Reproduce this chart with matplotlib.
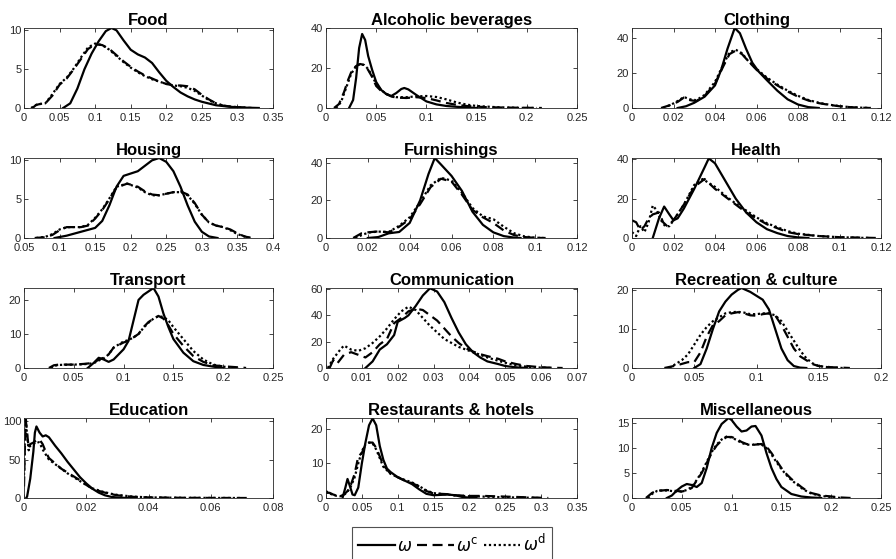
import matplotlib
matplotlib.use("Agg")
import matplotlib.pyplot as plt
import numpy as np
from matplotlib.ticker import FuncFormatter

plt.rcParams["font.family"] = ["Liberation Sans", "DejaVu Sans"]
plt.rcParams["mathtext.fontset"] = "dejavusans"

# --- density curves: (x, density) pairs ---
# w = solid, wc = dashed, wd = dotted
food_w = [(0.055, 0), (0.065, 0.6), (0.075, 2.5), (0.085, 5.0), (0.095, 7.0), (0.105, 8.6), (0.115, 9.9),
          (0.123, 10.3), (0.13, 10.0), (0.14, 8.7), (0.15, 7.5), (0.16, 6.9), (0.17, 6.5), (0.18, 5.8),
          (0.19, 4.6), (0.2, 3.5), (0.21, 2.7), (0.22, 2.0), (0.23, 1.5), (0.24, 1.1), (0.25, 0.8),
          (0.27, 0.35), (0.29, 0.15), (0.31, 0.05), (0.33, 0)]
food_wc = [(0.012, 0), (0.017, 0.4), (0.022, 0.5), (0.03, 0.6), (0.04, 1.6), (0.05, 3.0), (0.06, 3.8),
           (0.07, 5.0), (0.08, 6.3), (0.09, 7.6), (0.1, 8.2), (0.11, 8.1), (0.12, 7.6), (0.13, 6.8),
           (0.14, 6.0), (0.15, 5.3), (0.16, 4.7), (0.17, 4.2), (0.18, 3.8), (0.19, 3.4), (0.2, 3.1),
           (0.21, 2.9), (0.22, 2.9), (0.23, 2.8), (0.24, 2.4), (0.25, 1.7), (0.26, 1.1), (0.27, 0.6),
           (0.28, 0.3), (0.3, 0.1), (0.32, 0)]
food_wd = [(0.01, 0), (0.015, 0.3), (0.02, 0.5), (0.03, 0.6), (0.04, 1.8), (0.05, 3.1), (0.06, 3.9),
           (0.07, 5.1), (0.08, 6.5), (0.09, 7.8), (0.1, 8.3), (0.11, 8.1), (0.12, 7.5), (0.13, 6.7),
           (0.14, 5.9), (0.15, 5.2), (0.16, 4.6), (0.17, 4.1), (0.18, 3.7), (0.19, 3.4), (0.2, 3.1),
           (0.21, 2.9), (0.22, 2.8), (0.23, 2.6), (0.24, 2.2), (0.25, 1.6), (0.26, 1.0), (0.27, 0.6),
           (0.28, 0.3), (0.3, 0.1), (0.32, 0)]

alco_w = [(0.023, 0), (0.027, 4), (0.03, 15), (0.033, 30), (0.036, 37), (0.039, 34), (0.042, 26),
          (0.046, 19), (0.05, 13), (0.055, 9), (0.06, 7), (0.065, 6), (0.07, 7.5), (0.075, 9.5),
          (0.078, 10), (0.082, 9.3), (0.09, 6.5), (0.1, 3.3), (0.11, 1.8), (0.12, 1.0), (0.13, 0.6),
          (0.14, 0.3), (0.15, 0)]
alco_wc = [(0.008, 0), (0.013, 2), (0.018, 8), (0.022, 14), (0.026, 19), (0.03, 21), (0.034, 22),
           (0.038, 21.5), (0.042, 19), (0.046, 15.5), (0.05, 11), (0.055, 8.5), (0.06, 7), (0.065, 5.8),
           (0.07, 5.2), (0.08, 5.0), (0.09, 5.4), (0.1, 5.0), (0.11, 3.8), (0.12, 2.5), (0.13, 1.6),
           (0.14, 1.0), (0.16, 0.4), (0.18, 0.2), (0.2, 0.1), (0.215, 0)]
alco_wd = [(0.01, 0), (0.015, 3), (0.02, 10), (0.025, 17), (0.03, 21), (0.034, 22), (0.038, 21.5),
           (0.042, 19.5), (0.046, 16), (0.05, 12), (0.055, 9), (0.06, 7), (0.065, 6), (0.07, 5.4),
           (0.08, 5.4), (0.09, 5.8), (0.1, 6.0), (0.11, 5.5), (0.12, 4.3), (0.13, 2.8), (0.14, 1.7),
           (0.15, 1.0), (0.17, 0.4), (0.19, 0.1), (0.21, 0)]

cloth_w = [(0.022, 0), (0.026, 1), (0.03, 3), (0.035, 6.5), (0.04, 13), (0.043, 22), (0.046, 34),
           (0.0495, 46), (0.052, 43), (0.055, 34), (0.058, 26), (0.061, 21), (0.065, 16), (0.07, 10),
           (0.075, 5), (0.08, 2), (0.085, 0.5), (0.09, 0)]
cloth_wc = [(0.014, 0), (0.018, 1.5), (0.022, 3.5), (0.025, 6), (0.028, 4.5), (0.031, 4), (0.035, 7),
            (0.04, 14), (0.044, 24), (0.047, 31), (0.05, 33), (0.053, 31), (0.056, 27), (0.06, 22),
            (0.065, 17), (0.07, 13), (0.075, 9.5), (0.08, 6.5), (0.085, 4.3), (0.09, 2.8), (0.095, 1.8),
            (0.1, 1.0), (0.105, 0.5), (0.11, 0.2), (0.115, 0)]
cloth_wd = [(0.015, 0), (0.019, 2), (0.022, 4), (0.025, 6.3), (0.028, 5), (0.031, 4.5), (0.035, 7.5),
            (0.04, 15), (0.044, 25), (0.047, 32), (0.05, 33.5), (0.053, 31.5), (0.056, 27), (0.06, 22.5),
            (0.065, 17.5), (0.07, 13.5), (0.075, 10), (0.08, 7), (0.085, 4.6), (0.09, 3.0), (0.095, 1.9),
            (0.1, 1.1), (0.105, 0.5), (0.11, 0.2), (0.115, 0)]

house_w = [(0.093, 0), (0.11, 0.3), (0.13, 0.8), (0.15, 1.3), (0.16, 2.2), (0.17, 4.2), (0.18, 6.6),
           (0.19, 8.0), (0.2, 8.3), (0.21, 8.6), (0.22, 9.3), (0.23, 10.0), (0.24, 10.3), (0.25, 9.8),
           (0.26, 8.6), (0.27, 6.6), (0.28, 4.2), (0.29, 2.1), (0.3, 0.8), (0.31, 0.2), (0.322, 0)]
house_wc = [(0.065, 0), (0.08, 0.1), (0.09, 0.4), (0.1, 1.0), (0.11, 1.4), (0.13, 1.4), (0.14, 1.6),
            (0.15, 2.5), (0.16, 3.6), (0.17, 5.0), (0.18, 6.5), (0.195, 7.0), (0.21, 6.6), (0.22, 6.0),
            (0.23, 5.6), (0.24, 5.5), (0.25, 5.7), (0.26, 5.9), (0.27, 6.0), (0.28, 5.6), (0.29, 4.5),
            (0.3, 3.0), (0.31, 2.0), (0.32, 1.6), (0.33, 1.4), (0.34, 1.1), (0.35, 0.6), (0.36, 0.2),
            (0.37, 0)]
house_wd = [(0.067, 0), (0.08, 0.15), (0.09, 0.5), (0.1, 1.1), (0.11, 1.4), (0.13, 1.4), (0.14, 1.7),
            (0.15, 2.6), (0.16, 3.7), (0.17, 5.1), (0.18, 6.6), (0.195, 7.0), (0.21, 6.5), (0.22, 5.9),
            (0.23, 5.5), (0.24, 5.5), (0.25, 5.7), (0.26, 5.9), (0.27, 5.9), (0.28, 5.5), (0.29, 4.4),
            (0.3, 3.0), (0.31, 2.0), (0.32, 1.6), (0.33, 1.4), (0.34, 1.0), (0.35, 0.5), (0.36, 0.2),
            (0.368, 0)]

furn_w = [(0.02, 0), (0.025, 0.5), (0.03, 2.5), (0.035, 3.2), (0.04, 8), (0.045, 20), (0.049, 34),
          (0.052, 42.5), (0.055, 39), (0.06, 33), (0.065, 25), (0.07, 14), (0.075, 7), (0.08, 3),
          (0.085, 1), (0.09, 0.2), (0.093, 0)]
furn_wc = [(0.013, 0), (0.017, 2.5), (0.02, 3), (0.025, 3.5), (0.03, 3), (0.035, 6), (0.04, 10),
           (0.045, 18), (0.05, 27), (0.055, 31.5), (0.06, 30), (0.065, 23), (0.07, 15), (0.075, 11),
           (0.08, 8), (0.085, 4), (0.09, 1.5), (0.095, 0.5), (0.1, 0.1), (0.105, 0)]
furn_wd = [(0.014, 0), (0.018, 2), (0.021, 3), (0.025, 3.4), (0.03, 3.2), (0.035, 6.5), (0.04, 11),
           (0.045, 19), (0.05, 28), (0.055, 32), (0.06, 30.5), (0.065, 24), (0.07, 16), (0.075, 11.5),
           (0.08, 10), (0.085, 6), (0.09, 2.5), (0.095, 0.8), (0.1, 0.2), (0.104, 0)]

health_w = [(0.01, 0), (0.013, 10), (0.0155, 16), (0.018, 12), (0.02, 9), (0.022, 10), (0.025, 15),
            (0.03, 25), (0.035, 36), (0.037, 40.5), (0.04, 38), (0.045, 29), (0.05, 20), (0.055, 13),
            (0.06, 8), (0.065, 4.5), (0.07, 2.5), (0.075, 1), (0.08, 0.3), (0.085, 0)]
health_wc = [(0.0, 9), (0.002, 8), (0.004, 4), (0.006, 6), (0.008, 10), (0.01, 12), (0.013, 13),
             (0.015, 8), (0.017, 6), (0.02, 9), (0.025, 17), (0.03, 26), (0.035, 30), (0.04, 25),
             (0.045, 21), (0.05, 17), (0.055, 13), (0.06, 10), (0.065, 7), (0.07, 5), (0.075, 3),
             (0.08, 2), (0.09, 1), (0.1, 0.4), (0.11, 0.2), (0.118, 0)]
health_wd = [(0.0, 3), (0.002, 1), (0.004, 6), (0.006, 3), (0.008, 8), (0.01, 16.5), (0.012, 14),
             (0.014, 9), (0.016, 6), (0.018, 6), (0.02, 9), (0.025, 17), (0.03, 27), (0.034, 30),
             (0.04, 26), (0.045, 21.5), (0.05, 17.5), (0.055, 14), (0.06, 10.5), (0.065, 7.5),
             (0.07, 5.5), (0.075, 3.5), (0.08, 2.2), (0.09, 1), (0.1, 0.4), (0.11, 0.1), (0.115, 0)]

trans_w = [(0.064, 0), (0.07, 1.5), (0.075, 3), (0.08, 2.5), (0.085, 1.8), (0.09, 2.5), (0.1, 5.5),
           (0.105, 8), (0.11, 14), (0.115, 20), (0.12, 21.5), (0.125, 22.5), (0.13, 23.5), (0.135, 21),
           (0.14, 16), (0.145, 12), (0.15, 8.5), (0.16, 4.5), (0.17, 2), (0.18, 0.9), (0.19, 0.4),
           (0.2, 0)]
trans_wc = [(0.025, 0), (0.03, 0.8), (0.035, 1), (0.05, 1), (0.06, 1.2), (0.07, 1.5), (0.075, 2.5),
            (0.08, 3), (0.085, 4), (0.09, 6), (0.1, 7.5), (0.105, 8), (0.11, 9), (0.115, 10),
            (0.12, 12), (0.125, 13.5), (0.13, 14.5), (0.135, 15.3), (0.14, 14.5), (0.145, 12.5),
            (0.15, 10), (0.16, 6.5), (0.17, 3.5), (0.18, 1.8), (0.19, 0.8), (0.2, 0.5), (0.21, 0.3),
            (0.22, 0.1), (0.223, 0)]
trans_wd = [(0.027, 0), (0.03, 0.6), (0.035, 0.9), (0.05, 1), (0.06, 1.1), (0.07, 1.4), (0.075, 2.2),
            (0.08, 2.8), (0.085, 4), (0.09, 6), (0.1, 7.8), (0.105, 8.2), (0.11, 9), (0.115, 10),
            (0.12, 11.8), (0.125, 13.3), (0.13, 14.5), (0.135, 15.2), (0.14, 15), (0.145, 14),
            (0.15, 12), (0.16, 8.5), (0.17, 5), (0.18, 2.5), (0.19, 1), (0.2, 0.4), (0.21, 0.1),
            (0.215, 0)]

comm_w = [(0.011, 0), (0.013, 5), (0.015, 14), (0.017, 18), (0.019, 25), (0.02, 35), (0.022, 38),
          (0.023, 40), (0.025, 47), (0.027, 55), (0.029, 60.5), (0.031, 58), (0.033, 50), (0.035, 38),
          (0.037, 27), (0.039, 18), (0.041, 12), (0.043, 8), (0.045, 5), (0.048, 3), (0.05, 1.5),
          (0.053, 0.5), (0.056, 0)]
comm_wc = [(0.001, 0), (0.002, 6), (0.003, 3), (0.005, 10), (0.007, 12), (0.009, 10), (0.011, 8),
           (0.013, 12), (0.015, 18), (0.017, 22), (0.019, 34), (0.021, 38), (0.023, 43), (0.025, 45),
           (0.027, 44), (0.029, 40), (0.031, 36), (0.033, 30), (0.035, 24), (0.037, 19), (0.039, 15),
           (0.041, 12.5), (0.043, 10.5), (0.045, 9), (0.048, 7), (0.05, 5), (0.053, 3), (0.056, 1.5),
           (0.06, 0.6), (0.063, 0.2), (0.066, 0)]
comm_wd = [(0.0005, 0), (0.002, 7), (0.004, 14), (0.005, 17), (0.007, 14), (0.009, 13), (0.011, 15),
           (0.013, 19), (0.015, 24), (0.017, 30), (0.019, 37), (0.021, 43), (0.023, 46.5), (0.025, 44),
           (0.027, 38), (0.029, 32), (0.031, 27), (0.033, 22), (0.035, 19), (0.037, 16), (0.039, 14),
           (0.041, 12), (0.043, 10), (0.045, 8), (0.048, 5.5), (0.05, 4), (0.053, 2), (0.056, 1),
           (0.06, 0.3), (0.063, 0)]

recr_w = [(0.05, 0), (0.055, 1), (0.06, 5), (0.065, 10), (0.07, 14.5), (0.075, 17), (0.08, 18.8),
          (0.085, 20), (0.088, 20.5), (0.095, 19.5), (0.1, 18.5), (0.105, 17.5), (0.11, 15),
          (0.115, 10), (0.12, 5), (0.125, 2), (0.13, 0.5), (0.135, 0.1), (0.14, 0)]
recr_wc = [(0.026, 0), (0.035, 0.6), (0.045, 1.5), (0.05, 1.5), (0.055, 4), (0.06, 8), (0.065, 11),
           (0.07, 12), (0.075, 13.5), (0.08, 14), (0.085, 14.3), (0.09, 14), (0.095, 13.5), (0.1, 13.4),
           (0.105, 13.8), (0.11, 14), (0.115, 13.5), (0.12, 11), (0.125, 8), (0.13, 5), (0.135, 3),
           (0.14, 2), (0.145, 1), (0.15, 0.5), (0.16, 0.2), (0.175, 0)]
recr_wd = [(0.03, 0), (0.035, 1), (0.04, 2), (0.045, 3.5), (0.05, 6), (0.055, 8.5), (0.06, 10.5),
           (0.065, 12), (0.07, 13), (0.075, 14), (0.08, 14.3), (0.085, 14.4), (0.09, 14.2), (0.095, 13.8),
           (0.1, 13.8), (0.105, 14), (0.11, 14), (0.115, 13.5), (0.12, 12), (0.125, 9.5), (0.13, 7),
           (0.135, 4.5), (0.14, 2.5), (0.145, 1.2), (0.15, 0.5), (0.16, 0.1), (0.17, 0)]

educ_w = [(0.0007, 0), (0.001, 2), (0.002, 25), (0.003, 60), (0.0035, 85), (0.004, 93), (0.005, 85),
          (0.006, 80), (0.007, 81.5), (0.008, 79), (0.01, 68), (0.012, 58), (0.014, 47), (0.016, 37),
          (0.018, 27), (0.02, 19), (0.022, 12), (0.024, 7), (0.026, 3.5), (0.028, 1.5), (0.03, 0.6),
          (0.033, 0.1), (0.036, 0)]
educ_wc = [(0.0, 15), (0.0003, 70), (0.0006, 100), (0.001, 85), (0.0015, 65), (0.002, 70), (0.003, 72),
           (0.004, 75), (0.005, 76), (0.006, 70), (0.007, 60), (0.008, 52), (0.01, 45), (0.012, 38),
           (0.014, 33), (0.016, 28), (0.018, 23), (0.02, 17), (0.022, 12), (0.025, 8), (0.028, 5),
           (0.03, 3.5), (0.035, 1.5), (0.04, 0.8), (0.05, 0.3), (0.06, 0.1), (0.072, 0)]
educ_wd = [(0.0, 30), (0.0003, 80), (0.0006, 104), (0.001, 80), (0.0015, 62), (0.002, 68), (0.003, 70),
           (0.004, 73), (0.005, 72), (0.006, 63), (0.008, 50), (0.01, 44), (0.012, 38), (0.014, 32),
           (0.016, 27), (0.018, 22), (0.02, 17), (0.022, 12.5), (0.025, 8.5), (0.028, 5.5), (0.03, 4),
           (0.035, 1.8), (0.04, 0.8), (0.05, 0.3), (0.06, 0.1), (0.07, 0)]

rest_w = [(0.023, 0), (0.027, 3), (0.03, 5.5), (0.034, 3), (0.037, 1), (0.04, 0.8), (0.045, 3),
          (0.05, 10), (0.055, 16), (0.06, 21), (0.065, 23), (0.07, 21), (0.075, 15), (0.08, 11),
          (0.085, 8.5), (0.09, 7.5), (0.1, 6), (0.11, 5), (0.12, 4), (0.13, 2.5), (0.14, 1.2),
          (0.15, 0.8), (0.16, 0.9), (0.17, 1), (0.18, 0.8), (0.19, 0.3), (0.2, 0.1), (0.21, 0)]
rest_wc = [(0.0, 1.5), (0.005, 1.5), (0.01, 1), (0.015, 0.7), (0.02, 0.5), (0.025, 1), (0.03, 2),
           (0.035, 4), (0.04, 7), (0.045, 12), (0.05, 13), (0.055, 15.5), (0.06, 16), (0.065, 16),
           (0.07, 14.5), (0.075, 12), (0.08, 9.5), (0.09, 7), (0.1, 6), (0.11, 5), (0.12, 4.3),
           (0.13, 3.3), (0.14, 2), (0.15, 1.3), (0.16, 1.2), (0.17, 1.1), (0.18, 0.8), (0.2, 0.6),
           (0.22, 0.6), (0.25, 0.4), (0.28, 0.2), (0.31, 0)]
rest_wd = [(0.0, 2), (0.005, 1.3), (0.01, 0.9), (0.015, 0.6), (0.02, 0.5), (0.025, 0.9), (0.03, 1.8),
           (0.035, 3.5), (0.04, 6), (0.045, 10), (0.05, 13.5), (0.055, 15.5), (0.06, 16), (0.065, 15.8),
           (0.07, 14), (0.075, 11.5), (0.08, 9), (0.09, 7), (0.1, 6), (0.11, 5.2), (0.12, 4.5),
           (0.13, 3.4), (0.14, 2.2), (0.15, 1.4), (0.16, 1.2), (0.17, 1.0), (0.18, 0.7), (0.2, 0.5),
           (0.22, 0.4), (0.25, 0.2), (0.28, 0.1), (0.3, 0)]

misc_w = [(0.035, 0), (0.04, 0.5), (0.045, 1.5), (0.05, 2.3), (0.055, 2.8), (0.06, 2.6), (0.065, 2.2),
          (0.07, 3), (0.075, 6), (0.08, 10), (0.085, 13), (0.09, 14.8), (0.097, 16), (0.1, 15.6),
          (0.105, 14.3), (0.11, 13.3), (0.115, 13.5), (0.12, 14.3), (0.124, 14.4), (0.13, 12.5),
          (0.135, 9), (0.14, 6), (0.145, 3.8), (0.15, 2.2), (0.16, 0.8), (0.17, 0.3), (0.18, 0.1),
          (0.19, 0)]
misc_wc = [(0.014, 0), (0.02, 1), (0.025, 1.5), (0.03, 1.5), (0.035, 1.6), (0.04, 1.5), (0.045, 1.4),
           (0.05, 1.3), (0.055, 1.5), (0.06, 2), (0.065, 3.5), (0.07, 5), (0.075, 7), (0.08, 9),
           (0.085, 10.5), (0.09, 11.5), (0.095, 12.2), (0.1, 12.2), (0.105, 11.8), (0.11, 11.2),
           (0.115, 10.8), (0.12, 10.6), (0.125, 10.7), (0.13, 10.8), (0.135, 10.3), (0.14, 9),
           (0.145, 7.5), (0.15, 6), (0.155, 4.8), (0.16, 3.8), (0.165, 3), (0.17, 2.2), (0.175, 1.5),
           (0.18, 1), (0.19, 0.5), (0.2, 0.3), (0.21, 0.1), (0.22, 0)]
misc_wd = [(0.016, 0), (0.02, 0.8), (0.025, 1.4), (0.03, 1.5), (0.035, 1.5), (0.04, 1.4), (0.045, 1.3),
           (0.05, 1.3), (0.055, 1.6), (0.06, 2.2), (0.065, 3.6), (0.07, 5.2), (0.075, 7.2), (0.08, 9.2),
           (0.085, 10.7), (0.09, 11.7), (0.095, 12.3), (0.1, 12.1), (0.105, 11.6), (0.11, 11.0),
           (0.115, 10.7), (0.12, 10.6), (0.125, 10.8), (0.13, 10.7), (0.135, 10.0), (0.14, 8.7),
           (0.145, 7.2), (0.15, 5.8), (0.155, 4.6), (0.16, 3.6), (0.165, 2.8), (0.17, 2.0),
           (0.175, 1.4), (0.18, 0.9), (0.19, 0.4), (0.2, 0.2), (0.21, 0)]

titles = ["Food", "Alcoholic beverages", "Clothing", "Housing", "Furnishings", "Health",
          "Transport", "Communication", "Recreation & culture", "Education",
          "Restaurants & hotels", "Miscellaneous"]
curves = [(food_w, food_wc, food_wd), (alco_w, alco_wc, alco_wd), (cloth_w, cloth_wc, cloth_wd),
          (house_w, house_wc, house_wd), (furn_w, furn_wc, furn_wd), (health_w, health_wc, health_wd),
          (trans_w, trans_wc, trans_wd), (comm_w, comm_wc, comm_wd), (recr_w, recr_wc, recr_wd),
          (educ_w, educ_wc, educ_wd), (rest_w, rest_wc, rest_wd), (misc_w, misc_wc, misc_wd)]

# axis ranges: (xmin, xmax, xstep), (ymax, ystep)
x_ranges = [(0, 0.35, 0.05), (0, 0.25, 0.05), (0, 0.12, 0.02), (0.05, 0.4, 0.05),
            (0, 0.12, 0.02), (0, 0.12, 0.02), (0, 0.25, 0.05), (0, 0.07, 0.01),
            (0, 0.2, 0.05), (0, 0.08, 0.02), (0, 0.35, 0.05), (0, 0.25, 0.05)]
y_ranges = [(10.3, 5), (40, 20), (46, 20), (10.3, 5), (42.5, 20), (40.7, 20),
            (23.5, 10), (60.7, 20), (20.5, 10), (104, 50), (23.1, 10), (16, 5)]

legend_labels = [r"$\omega$", r"$\omega^{\mathrm{c}}$", r"$\omega^{\mathrm{d}}$"]

W, H = 896, 559
col_px = [(24, 273), (326, 577), (632, 881)]
row_px = [(28, 108), (158, 238), (288, 368), (418, 498)]
AX_COL = "#262626"
styles = [dict(linestyle="-"), dict(linestyle=(0, (4.5, 2.5))), dict(linestyle=(0, (1, 1.2)))]

fig = plt.figure(figsize=(W / 100, H / 100), dpi=100)
fmt = FuncFormatter(lambda v, _: f"{v:g}")
handles = []

for i, title in enumerate(titles):
    r, c = divmod(i, 3)
    x0, x1 = col_px[c]
    y0, y1 = row_px[r]
    ax = fig.add_axes([x0 / W, 1 - y1 / H, (x1 - x0) / W, (y1 - y0) / H])
    for pts, st in zip(curves[i], styles):
        xs, ys = zip(*pts)
        ln, = ax.plot(xs, ys, color="black", lw=1.6, **st)
        if i == 0:
            handles.append(ln)
    xmin, xmax, xstep = x_ranges[i]
    ymax, ystep = y_ranges[i]
    ax.set_xlim(xmin, xmax)
    ax.set_ylim(0, ymax)
    ax.set_xticks(np.arange(xmin, xmax + xstep / 2, xstep))
    ax.set_yticks(np.arange(0, ymax + 1e-9, ystep))
    ax.xaxis.set_major_formatter(fmt)
    ax.yaxis.set_major_formatter(fmt)
    ax.tick_params(direction="in", top=True, right=True, length=3, width=0.6,
                   colors=AX_COL, labelsize=8)
    ax.tick_params(axis="x", pad=3.5)
    ax.tick_params(axis="y", pad=2)
    for sp in ax.spines.values():
        sp.set_color(AX_COL)
        sp.set_linewidth(0.6)
    ax.set_title(title, fontsize=12, fontweight="bold", pad=2)

leg = fig.legend(handles, legend_labels, loc="upper center",
                 bbox_to_anchor=(452 / W, 1 - 527 / H), borderaxespad=0, ncol=3,
                 frameon=True, fancybox=False, edgecolor=AX_COL, fontsize=12,
                 handlelength=2.2, handletextpad=0.15, columnspacing=0.3, borderpad=0.35)
leg.get_frame().set_linewidth(0.8)

fig.savefig("out.png", dpi=100)
